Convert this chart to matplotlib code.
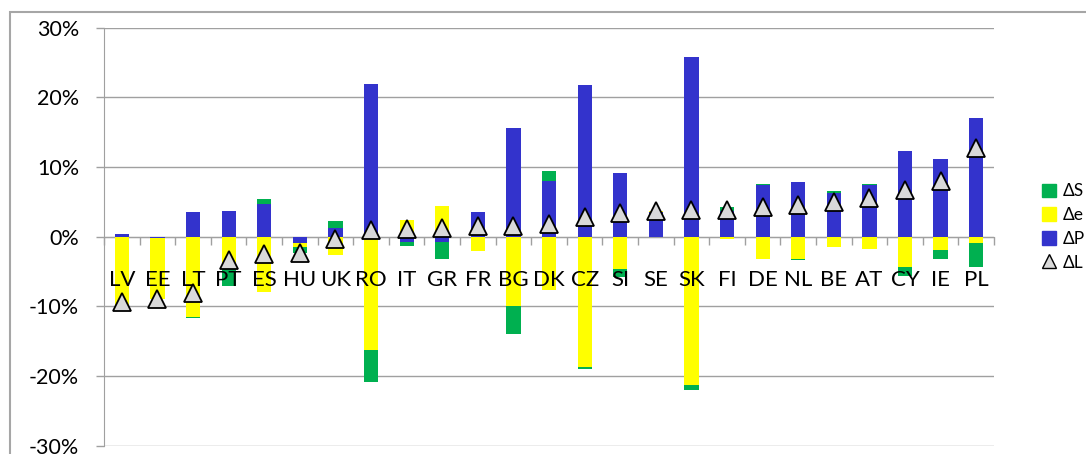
import numpy as np
import matplotlib
matplotlib.use('Agg')
import matplotlib.pyplot as plt
from matplotlib.patches import Patch, Rectangle
from matplotlib.lines import Line2D
from matplotlib.ticker import FuncFormatter

plt.rcParams['font.family'] = ['Lato', 'DejaVu Sans']

# country codes in chart order
countries = ['LV', 'EE', 'LT', 'PT', 'ES', 'HU', 'UK', 'RO', 'IT', 'GR', 'FR', 'BG', 'DK',
             'CZ', 'SI', 'SE', 'SK', 'FI', 'DE', 'NL', 'BE', 'AT', 'CY', 'IE', 'PL']

# components in percent
dP = [0.45, -0.25, 3.5, 3.7, 4.75, -0.85, 1.25, 21.9, -0.75, -0.75, 3.5, 15.55, 8.0,
      21.8, 9.2, 3.6, 25.8, 3.75, 7.4, 7.9, 6.3, 7.4, 12.35, 11.2, 17.1]
de = [-9.8, -8.65, -11.5, -4.65, -8.0, -0.65, -2.6, -16.2, 2.4, 4.45, -2.0, -9.95, -7.65,
      -18.65, -4.6, 0.1, -21.3, -0.4, -3.25, -3.25, -1.5, -1.8, -4.4, -1.9, -0.85]
dS = [0.0, 0.0, -0.15, -2.4, 0.7, -0.85, 0.95, -4.7, -0.55, -2.4, 0.1, -4.05, 1.45,
      -0.3, -1.25, 0.0, -0.7, 0.5, 0.1, -0.15, 0.2, 0.1, -1.25, -1.25, -3.45]
dL = [-9.35, -8.9, -8.15, -3.3, -2.55, -2.4, -0.4, 1.0, 1.1, 1.3, 1.6, 1.55, 1.8,
      2.85, 3.35, 3.7, 3.8, 3.8, 4.2, 4.5, 5.0, 5.6, 6.7, 8.05, 12.8]

x = np.arange(len(countries))
green = '#00B050'
yellow = '#FFFF00'
blue = '#3333CC'
grey = '#A0A0A0'

fig = plt.figure(figsize=(10.86, 4.54), dpi=100)
ax = fig.add_axes([0.0958, 0.0183, 0.8195, 0.9207])

# outer chart frame (cut off at right and bottom)
fig.patches.append(Rectangle((10 / 1086, -0.1), 1.2, 1 - 12 / 454 + 0.1, transform=fig.transFigure,
                             fill=False, edgecolor='#A6A6A6', linewidth=1.5))

# stacked columns: positives go up, negatives go down, order P, e, S
pos_base = np.zeros(len(x))
neg_base = np.zeros(len(x))
for vals, col in [(dP, blue), (de, yellow), (dS, green)]:
    v = np.array(vals) / 100
    bottom = np.where(v >= 0, pos_base, neg_base)
    ax.bar(x, v, width=0.4, bottom=bottom, color=col, edgecolor='none', zorder=1)
    pos_base = pos_base + np.clip(v, 0, None)
    neg_base = neg_base + np.clip(v, None, 0)

ax.plot(x, np.array(dL) / 100, linestyle='none', marker='^', markersize=13.5,
        markerfacecolor='#D9D9D9', markeredgecolor='black', markeredgewidth=1.3, zorder=4)

ax.set_xlim(-0.5, len(x) - 0.5)
ax.set_ylim(-0.3, 0.3)
ax.set_yticks(np.arange(-0.3, 0.31, 0.1))
ax.yaxis.set_major_formatter(FuncFormatter(lambda v, p: '{:.0f}%'.format(v * 100)))
ax.set_axisbelow(True)
ax.grid(axis='y', color=grey, linewidth=1)
ax.tick_params(axis='y', length=6, color=grey, width=1, pad=12, labelsize=15.5)

ax.spines['top'].set_visible(False)
ax.spines['right'].set_visible(False)
ax.spines['left'].set_color(grey)
ax.spines['bottom'].set_position(('data', 0))
ax.spines['bottom'].set_color(grey)
ax.spines['bottom'].set_zorder(0.6)

ax.set_xticks([])
ax.set_xticks(np.arange(-0.5, len(x), 1), minor=True)
ax.tick_params(axis='x', which='minor', direction='out', length=6, color=grey, width=1)

for i, c in enumerate(countries):
    ax.annotate(c, xy=(i, 0), xytext=(0, -24), textcoords='offset points',
                ha='center', va='top', fontsize=16, zorder=3)

handles = [Patch(color=green, label='ΔS'), Patch(color=yellow, label='Δe'),
           Patch(color=blue, label='ΔP'),
           Line2D([], [], linestyle='none', marker='^', markersize=10, markerfacecolor='#D9D9D9',
                  markeredgecolor='black', label='ΔL')]
fig.legend(handles=handles, loc='center left', bbox_to_anchor=(0.945, 0.5), frameon=False,
           fontsize=12.5, handlelength=0.8, handleheight=0.8, handletextpad=0.4, labelspacing=0.45)

fig.savefig('out.png', dpi=100)
